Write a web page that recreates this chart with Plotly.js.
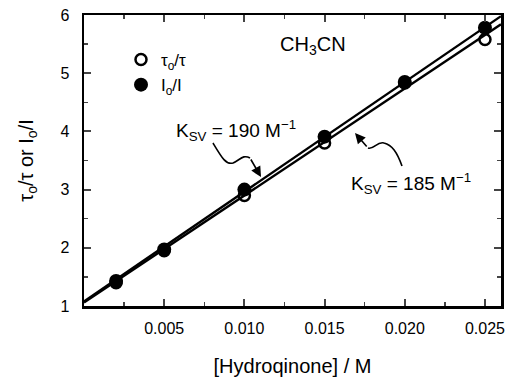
<!DOCTYPE html>
<html>
<head>
<meta charset="utf-8">
<script src="https://cdn.plot.ly/plotly-3.0.1.min.js"></script>
<style>html,body{margin:0;padding:0;background:#fff;}#chart{width:513px;height:377px;}</style>
</head>
<body>
<div id="chart"></div>
<script>
// Data
const concHQ = [0.002, 0.005, 0.010, 0.015, 0.020, 0.025];
const tauRatio = [1.40, 1.95, 2.90, 3.80, 4.83, 5.58];   // tau_o/tau (open)
const intRatio = [1.43, 1.97, 3.00, 3.91, 4.85, 5.78];   // I_o/I (filled)
const fitX = [0, 0.026];
const fit190 = [1.08, 5.98];
const fit185 = [1.06, 5.84];
const xTickVals = [0.005, 0.010, 0.015, 0.020, 0.025];
const xTickText = ['0.005', '0.010', '0.015', '0.020', '0.025'];
const yTickVals = [1, 2, 3, 4, 5, 6];

const L = 84, R = 501, T = 15, B = 306, W = 513, H = 377;
const XR = [0, 0.026], YR = [1, 6];
const px2x = p => XR[0] + (p - L) / (R - L) * (XR[1] - XR[0]);
const py2y = p => YR[1] - (p - T) / (B - T) * (YR[1] - YR[0]);
const px2paper = p => (p - L) / (R - L);
const py2paper = p => (B - p) / (B - T);
function pathFrom(pts) {
  return pts.map((c, i) => (i === 0 ? 'M ' : (c.length === 6 ? 'C ' : 'L ')) +
    (c.length === 6 ? [px2x(c[0]), py2y(c[1]), px2x(c[2]), py2y(c[3]), px2x(c[4]), py2y(c[5])].join(' ')
                    : px2x(c[0]) + ' ' + py2y(c[1]))).join(' ');
}

const font = 'Liberation Sans, Arial, sans-serif';

const traces = [
  {x: fitX, y: fit190, mode: 'lines', line: {color: '#000', width: 2.4}, showlegend: false, hoverinfo: 'skip'},
  {x: fitX, y: fit185, mode: 'lines', line: {color: '#000', width: 2.4}, showlegend: false, hoverinfo: 'skip'},
  {x: concHQ, y: tauRatio, mode: 'markers', name: 'τ<sub>o</sub>/τ',
   marker: {symbol: 'circle-open', size: 11, color: '#000', line: {width: 2.5, color: '#000'}}},
  {x: concHQ, y: intRatio, mode: 'markers', name: 'I<sub>o</sub>/I',
   marker: {symbol: 'circle', size: 14, color: '#000'}}
];

const squiggle1 = [[213,143],[222,158,226,165,233,163],[240,160,243,154,250,158]];
const squiggle2 = [[402,166],[397,152,392,145,384,143],[377,141,374,150,368,148]];

const layout = {
  width: W, height: H,
  margin: {l: L, r: W - R, t: T, b: H - B, autoexpand: false},
  paper_bgcolor: '#fff', plot_bgcolor: '#fff',
  font: {family: font, color: '#000', size: 14},
  showlegend: true,
  legend: {x: px2paper(121), y: py2paper(42), xref: 'paper', yref: 'paper', xanchor: 'left', yanchor: 'top',
           bgcolor: 'rgba(0,0,0,0)', font: {size: 17, family: font}, itemwidth: 30, tracegroupgap: 0},
  xaxis: {range: XR, tickvals: xTickVals, ticktext: xTickText, ticks: 'inside', ticklen: 7, tickwidth: 2,
          showline: true, linewidth: 2.5, linecolor: '#000', mirror: 'allticks', showgrid: false, zeroline: false,
          minor: {dtick: 0.0025, tick0: 0, ticks: 'inside', ticklen: 4, tickwidth: 1.5, showgrid: false},
          tickfont: {size: 16, family: font}, ticklabelstandoff: 6,
          title: {text: '[Hydroqinone] / M', font: {size: 20, family: font}, standoff: 25}},
  yaxis: {range: YR, tickvals: yTickVals, ticks: 'inside', ticklen: 7, tickwidth: 2,
          showline: true, linewidth: 2.5, linecolor: '#000', mirror: 'allticks', showgrid: false, zeroline: false,
          minor: {dtick: 0.5, tick0: 0, ticks: 'inside', ticklen: 4, tickwidth: 1.5, showgrid: false},
          tickfont: {size: 16, family: font}, ticklabelstandoff: 9,
          title: {text: 'τ<sub>o</sub>/τ or I<sub>o</sub>/I', font: {size: 20, family: font}, standoff: 22}},
  shapes: [
    {type: 'path', xref: 'x', yref: 'y', path: pathFrom(squiggle1), line: {color: '#000', width: 1.6}},
    {type: 'path', xref: 'x', yref: 'y', path: pathFrom(squiggle2), line: {color: '#000', width: 1.6}}
  ],
  annotations: [
    {x: px2x(313), y: py2y(45), xref: 'x', yref: 'y', text: 'CH<sub>3</sub>CN', showarrow: false,
     font: {size: 20, family: font}},
    {x: px2x(174), y: py2y(130), xref: 'x', yref: 'y', xanchor: 'left', text: 'K<sub>SV</sub> = 190 M<sup>−1</sup>',
     showarrow: false, font: {size: 19, family: font}},
    {x: px2x(349), y: py2y(183), xref: 'x', yref: 'y', xanchor: 'left', text: 'K<sub>SV</sub> = 185 M<sup>−1</sup>',
     showarrow: false, font: {size: 19, family: font}},
    {x: px2x(261), y: py2y(177), xref: 'x', yref: 'y', ax: 250 - 261, ay: 158 - 177, axref: 'pixel', ayref: 'pixel',
     text: '', showarrow: true, arrowhead: 2, arrowsize: 1.3, arrowwidth: 1.6, arrowcolor: '#000'},
    {x: px2x(355), y: py2y(133), xref: 'x', yref: 'y', ax: 368 - 355, ay: 148 - 133, axref: 'pixel', ayref: 'pixel',
     text: '', showarrow: true, arrowhead: 2, arrowsize: 1.3, arrowwidth: 1.6, arrowcolor: '#000'}
  ]
};

Plotly.newPlot('chart', traces, layout, {staticPlot: true, displayModeBar: false});
</script>
</body>
</html>
